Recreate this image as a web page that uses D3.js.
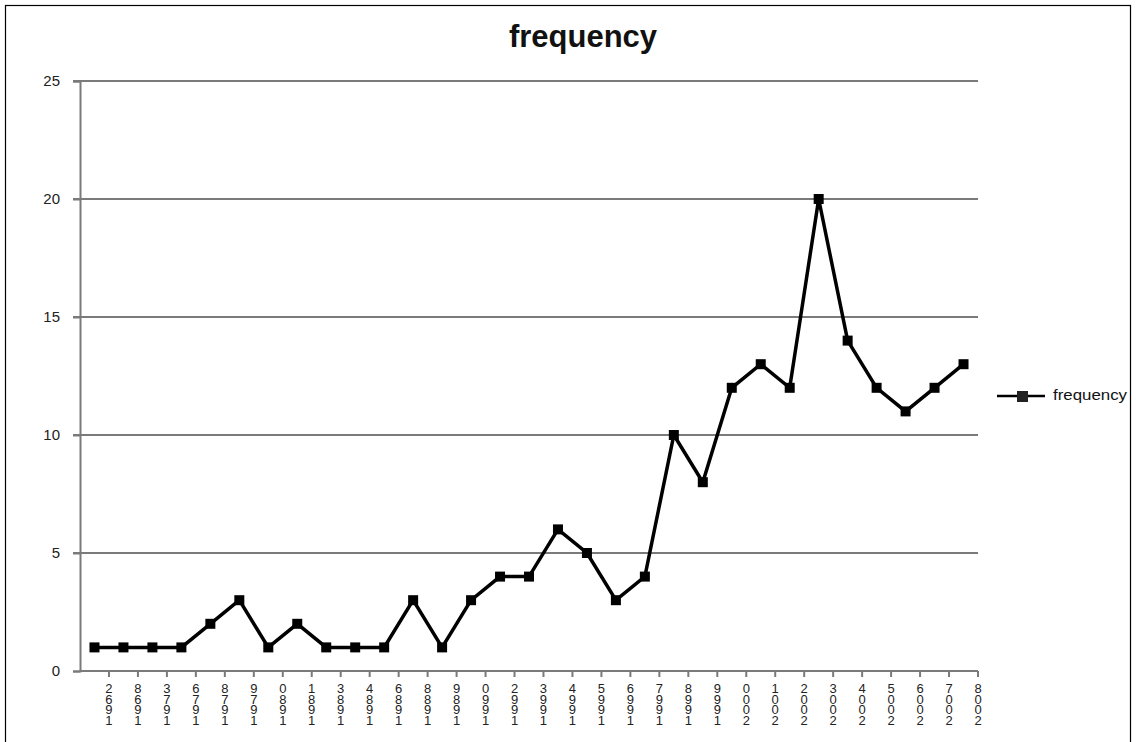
<!DOCTYPE html>
<html><head><meta charset="utf-8">
<script src="https://cdn.jsdelivr.net/npm/d3@7"></script>
<style>body{margin:0;background:#fff;} svg{display:block;font-family:"Liberation Sans",Arial,sans-serif;}</style>
</head><body>
<svg id="c" width="1136" height="742"></svg>
<script>
const categories = ["1962","1968","1973","1976","1978","1979","1980","1981","1983","1984","1986","1988","1989","1990","1992","1993","1994","1995","1996","1997","1998","1999","2000","2001","2002","2003","2004","2005","2006","2007","2008"];
const values = [1,1,1,1,2,3,1,2,1,1,1,3,1,3,4,4,6,5,3,4,10,8,12,13,12,20,14,12,11,12,13];
const yTicks = [0,5,10,15,20,25];
const seriesName = "frequency";
const title = "frequency";

const svg = d3.select("#c");
svg.append("rect").attr("x",5.5).attr("y",5.5).attr("width",1125).attr("height",760).attr("fill","#fff").attr("stroke","#000").attr("stroke-width",1.2);

const L=80,R=978,T=81,B=671;
const x = d3.scaleBand().domain(categories).range([L,R]);
const y = d3.scaleLinear().domain([0,25]).range([B,T]);

// gridlines
svg.append("g").selectAll("line").data(yTicks.filter(d=>d>0)).join("line")
  .attr("x1",L-7).attr("x2",R).attr("y1",d=>y(d)).attr("y2",d=>y(d))
  .attr("stroke","#7a7a7a").attr("stroke-width",2);

// y axis
const ya = svg.append("g").attr("transform",`translate(${L},0)`).call(d3.axisLeft(y).tickValues(yTicks).tickSize(7).tickPadding(13));
ya.select(".domain").attr("stroke","#7a7a7a").attr("stroke-width",2);
ya.selectAll(".tick line").attr("stroke","#7a7a7a").attr("stroke-width",2);
ya.selectAll("text").attr("font-size",15).attr("fill","#222").attr("font-family","Liberation Sans, Arial, sans-serif");

// x axis
const xa = svg.append("g").attr("transform",`translate(0,${B})`);
xa.append("line").attr("x1",L).attr("x2",R).attr("stroke","#7a7a7a").attr("stroke-width",2);
xa.selectAll("line.tk").data(categories).join("line").attr("class","tk")
  .attr("x1",d=>x(d)+x.bandwidth()).attr("x2",d=>x(d)+x.bandwidth()).attr("y1",0).attr("y2",6).attr("stroke","#7a7a7a").attr("stroke-width",2);
// stacked reversed labels
const lab = xa.selectAll("text.lb").data(categories).join("text").attr("class","lb")
  .attr("font-size",13).attr("fill","#222").attr("text-anchor","middle");
lab.each(function(d){
  const t=d3.select(this);
  const cx = x(d)+x.bandwidth();
  d.split("").reverse().forEach((ch,k)=>{
    t.append("tspan").attr("x",cx).attr("y",22+k*10.5).text(ch);
  });
});

// line
const line = d3.line().x((d,i)=>x(categories[i])+x.bandwidth()/2).y(d=>y(d));
svg.append("path").datum(values).attr("d",line).attr("fill","none").attr("stroke","#000").attr("stroke-width",3.5).attr("stroke-linejoin","miter");
svg.append("g").selectAll("rect").data(values).join("rect")
  .attr("x",(d,i)=>x(categories[i])+x.bandwidth()/2-5).attr("y",d=>y(d)-5)
  .attr("width",10).attr("height",10).attr("fill","#000");

// title
svg.append("text").attr("x",583).attr("y",47).attr("text-anchor","middle").attr("font-size",31).attr("font-weight","bold").attr("fill","#111").text(title);

// legend
const lg = svg.append("g");
lg.append("line").attr("x1",997).attr("x2",1045).attr("y1",396).attr("y2",396).attr("stroke","#000").attr("stroke-width",2.5);
lg.append("rect").attr("x",1017).attr("y",391).attr("width",11).attr("height",11).attr("fill","#222");
lg.append("text").attr("x",1053).attr("y",400).attr("font-size",15).attr("textLength",74).attr("lengthAdjust","spacingAndGlyphs").attr("fill","#111").text(seriesName);
</script>
</body></html>
